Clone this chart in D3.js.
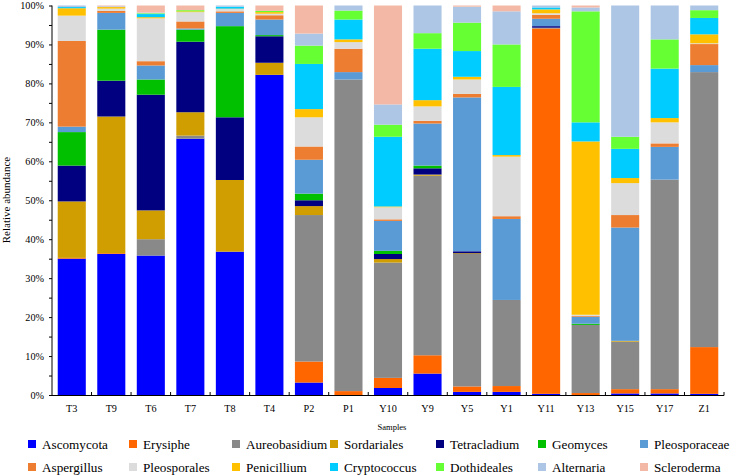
<!DOCTYPE html>
<html>
<head>
<meta charset="utf-8">
<script src="https://cdn.jsdelivr.net/npm/d3@7"></script>
<style>
  html, body { margin: 0; padding: 0; background: #fff; }
  svg { display: block; }
  svg text { font-family: "Liberation Serif", "Times New Roman", serif !important; }
</style>
</head>
<body>
<svg id="chart" width="733" height="476"></svg>
<script>
// ---- Data ----
const samples = ["T3","T9","T6","T7","T8","T4","P2","P1","Y10","Y9","Y5","Y1","Y11","Y13","Y15","Y17","Z1"];

const seriesNames = ["Ascomycota","Erysiphe","Aureobasidium","Sordariales","Tetracladium","Geomyces","Pleosporaceae",
                     "Aspergillus","Pleosporales","Penicillium","Cryptococcus","Dothideales","Alternaria","Scleroderma"];

const seriesColors = ["#0000FF","#FF6600","#898989","#D09E00","#000080","#00C000","#5B9BD5",
                      "#ED7D31","#DCDCDC","#FFC000","#00CCFF","#66FF33","#ADC6E5","#F4B9A6"];

const Ascomycota    = [35.0, 36.2, 35.8, 65.8, 36.8, 82.2, 3.2, 0, 1.8, 5.5, 0.8, 0.8, 0.3, 0, 0.4, 0.4, 0.3];
const Erysiphe      = [0.2, 0.2, 0, 0, 0, 0, 5.4, 1.0, 2.6, 4.7, 1.4, 1.5, 93.8, 0.5, 1.1, 1.1, 12.0];
const Aureobasidium = [0, 0, 4.2, 0.8, 0, 0, 37.6, 80.0, 29.6, 46.1, 34.0, 22.1, 0.2, 17.5, 12.2, 53.8, 70.6];
const Sordariales   = [14.5, 35.1, 7.4, 6.0, 18.4, 3.1, 2.3, 0, 0.9, 0.3, 0.2, 0, 0, 0, 0.2, 0, 0];
const Tetracladium  = [9.2, 9.2, 29.7, 18.1, 16.1, 6.8, 1.5, 0, 1.3, 1.6, 0.5, 0, 0.4, 0, 0, 0, 0];
const Geomyces      = [8.6, 13.1, 3.9, 3.1, 23.4, 0.3, 1.7, 0, 0.8, 0.7, 0, 0, 0, 0.3, 0, 0, 0];
const Pleosporaceae = [1.4, 4.3, 3.6, 0.3, 3.4, 4.0, 8.7, 1.9, 7.7, 10.8, 39.5, 20.8, 1.9, 1.8, 29.1, 8.4, 1.8];
const Aspergillus   = [22.0, 0.5, 1.1, 1.8, 0.4, 1.1, 3.4, 6.0, 0.4, 0.7, 0.9, 0.7, 1.0, 0.2, 3.2, 0.9, 5.4];
const Pleosporales  = [6.5, 0.6, 11.0, 2.4, 0.6, 0.4, 7.5, 1.7, 3.1, 3.7, 3.7, 15.3, 0.4, 0.3, 8.2, 5.4, 0.2];
const Penicillium   = [1.9, 0.4, 0.3, 0.2, 0.1, 0.4, 2.1, 0.7, 0.2, 1.6, 0.7, 0.4, 1.0, 44.5, 1.3, 1.1, 2.3];
const Cryptococcus  = [0.3, 0, 0.8, 0, 0.5, 0, 11.6, 5.1, 17.9, 13.2, 6.6, 17.5, 0.5, 4.9, 7.5, 12.7, 4.2];
const Dothideales   = [0, 0, 0.2, 0.3, 0, 0.3, 4.7, 2.3, 3.1, 4.0, 7.3, 10.9, 0, 28.5, 3.1, 7.5, 2.0];
const Alternaria    = [0.4, 0.2, 0.2, 0, 0.3, 0, 3.1, 1.3, 5.2, 7.1, 4.1, 8.5, 0.5, 1.0, 33.7, 8.7, 1.2];
const Scleroderma   = [0, 0.2, 1.8, 1.2, 0, 1.4, 7.2, 0, 25.4, 0, 0.3, 1.5, 0, 0.5, 0, 0, 0];

const yTicks = [0,10,20,30,40,50,60,70,80,90,100];
const yMinorTicks = [5,15,25,35,45,55,65,75,85,95];

const seriesValues = [Ascomycota, Erysiphe, Aureobasidium, Sordariales, Tetracladium, Geomyces, Pleosporaceae,
                      Aspergillus, Pleosporales, Penicillium, Cryptococcus, Dothideales, Alternaria, Scleroderma];

// ---- Build table ----
const table = samples.map((s, i) => {
  const row = { sample: s };
  seriesNames.forEach((n, k) => { row[n] = seriesValues[k][i]; });
  return row;
});
const stacked = d3.stack().keys(seriesNames)(table);

// ---- Layout ----
const FONT = "'Liberation Serif', 'Times New Roman', serif";
const svg = d3.select("#chart");
const plotLeft = 52, plotRight = 724, plotTop = 5.5, plotBottom = 395;

const x = d3.scaleBand().domain(samples).range([plotLeft, plotRight]).paddingInner(0.29).paddingOuter(0.145);
const y = d3.scaleLinear().domain([0, 100]).range([plotBottom, plotTop]);
const color = d3.scaleOrdinal().domain(seriesNames).range(seriesColors);

// bars
svg.append("g").selectAll("g").data(stacked).join("g")
  .attr("fill", d => color(d.key))
  .selectAll("rect").data(d => d).join("rect")
  .attr("x", d => x(d.data.sample))
  .attr("width", x.bandwidth())
  .attr("y", d => y(d[1]))
  .attr("height", d => Math.max(0, y(d[0]) - y(d[1])));

// y axis
const yAxis = d3.axisLeft(y).tickValues(yTicks).tickFormat(d => d + "%").tickSize(3).tickPadding(5);
const gy = svg.append("g").attr("transform", `translate(${plotLeft},0)`).call(yAxis)
  .attr("font-family", FONT).attr("font-size", 10.2);
gy.select(".domain").attr("d", `M0,${plotTop}V${plotBottom}`).attr("stroke", "#000");
gy.selectAll(".tick text").attr("fill", "#000");
gy.selectAll(".tick line").attr("stroke", "#000");
svg.append("g").attr("transform", `translate(${plotLeft},0)`)
  .call(d3.axisLeft(y).tickValues(yMinorTicks).tickSize(3).tickFormat(""))
  .call(g => g.select(".domain").remove())
  .selectAll("line").attr("stroke", "#000");

// x axis
const boundaries = samples.map(s => x(s) - x.step() * x.paddingInner() / 2).concat([plotRight]);
const gx = svg.append("g").attr("transform", `translate(0,${plotBottom})`)
  .attr("font-family", FONT);
gx.append("line").attr("x1", plotLeft).attr("x2", plotRight).attr("y1", 0.5).attr("y2", 0.5).attr("stroke", "#000");
gx.selectAll("line.tk").data(boundaries.slice(1)).join("line").attr("class", "tk")
  .attr("x1", d => d).attr("x2", d => d).attr("y1", 0.5).attr("y2", -3).attr("stroke", "#000");
gx.selectAll("text").data(samples).join("text")
  .attr("x", d => x(d) + x.bandwidth() / 2)
  .attr("y", 17)
  .attr("text-anchor", "middle")
  .attr("font-size", "10.2px")
  .text(d => d);

// axis titles
svg.append("text").attr("transform", `translate(10,200) rotate(-90)`)
  .attr("font-family", FONT)
  .attr("text-anchor", "middle").attr("font-size", "11px").text("Relative abundance");
svg.append("text").attr("x", 392).attr("y", 429.5)
  .attr("font-family", FONT)
  .attr("text-anchor", "middle").attr("font-size", "8.5px").text("Samples");

// legend
const legendX = [28, 129, 232, 330, 436, 538, 640];
const legendY = [444, 467];
const lg = svg.append("g").attr("font-family", FONT).selectAll("g").data(seriesNames).join("g")
  .attr("transform", (d, i) => `translate(${legendX[i % 7]},${legendY[Math.floor(i / 7)]})`);
lg.append("rect").attr("x", 0).attr("y", -4).attr("width", 8).attr("height", 8).attr("fill", d => color(d));
lg.append("text").attr("x", 14).attr("y", 4.5).attr("font-size", "13.2px").text(d => d);
</script>
</body>
</html>
